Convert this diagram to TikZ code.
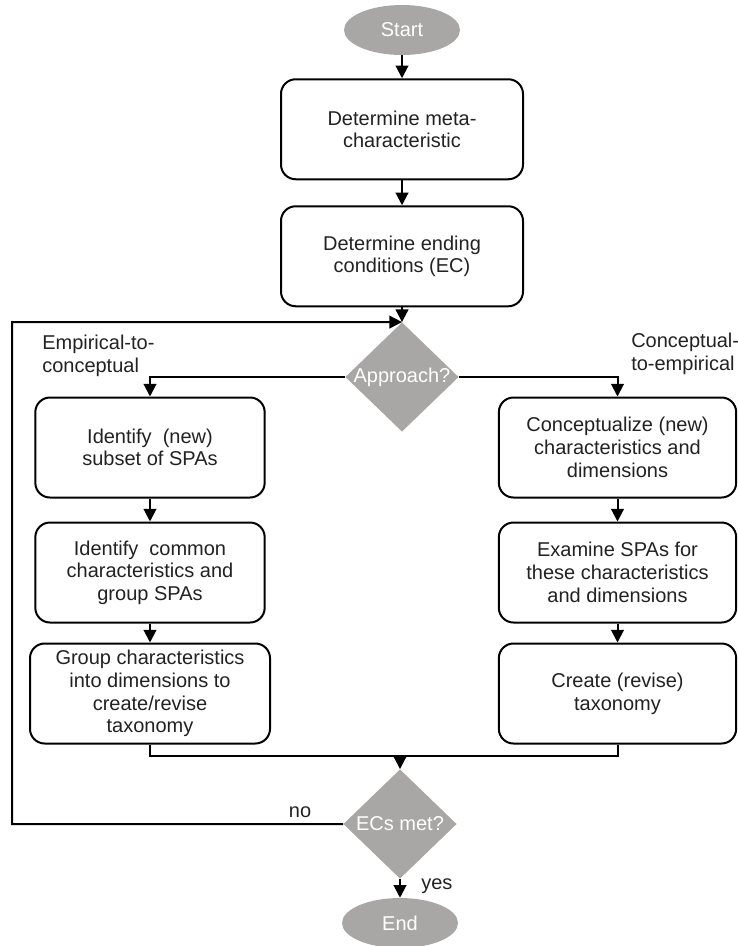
\documentclass[tikz,border=0pt]{standalone}
\usepackage{fontspec}
\setmainfont{Liberation Sans}
\usetikzlibrary{arrows.meta,positioning,shapes.geometric}
\definecolor{stone}{HTML}{A9A6A6}
\definecolor{ink}{HTML}{222222}

\begin{document}
\begin{tikzpicture}[
  x=0.75pt,y=-0.75pt,
  node distance=17.25pt,
  term/.style={ellipse,fill=stone,text=white,minimum width=87pt,minimum height=37.5pt,
            inner sep=0pt,font=\fontsize{15}{17}\selectfont},
  proc/.style={draw=black,line width=1.5pt,rounded corners=11pt,fill=white,minimum width=181.5pt,
            minimum height=75pt,align=center,text=ink,font=\fontsize{15}{17}\selectfont},
  decide/.style={diamond,fill=stone,minimum width=85pt,minimum height=82pt,inner sep=0pt,
            label={[text=white,font=\fontsize{15}{17}\selectfont]center:#1}},
  tag/.style={align=left,text=ink,font=\fontsize{15}{17}\selectfont,inner sep=0pt},
  arr/.style={-{Triangle[length=9.5pt,width=9.5pt]},line width=1.5pt}
]
\useasboundingbox (0,0) rectangle (738,946);
% main column
\node[term] (start) at (402,30) {Start};
\node[proc,below=17.25pt of start] (meta) {Determine meta-\\characteristic};
\node[proc,below=18.75pt of meta] (ending) {Determine ending\\conditions (EC)};
\node[decide=Approach?] (appr) at (402,377) {};
% empirical-to-conceptual branch
\node[proc,minimum width=172pt] (subset) at (150,447.5) {Identify\ \ (new)\\subset of SPAs};
\node[proc,minimum width=172pt,below=of subset] (common) {Identify\ \ common\\characteristics and\\group SPAs};
\node[proc,minimum width=180pt,below=14.25pt of common] (grpdim) {Group characteristics\\into dimensions to\\create/revise\\taxonomy};
% conceptual-to-empirical branch
\node[proc,minimum width=178pt] (concept) at (617.5,447.5) {Conceptualize (new)\\characteristics and\\dimensions};
\node[proc,minimum width=178pt,below=of concept] (examine) {Examine SPAs for\\these characteristics\\and dimensions};
\node[proc,minimum width=178pt,below=14.25pt of examine] (create) {Create (revise)\\taxonomy};
% ending check
\node[decide=ECs met?] (ecs) at (400,824) {};
\node[term] (end) at (400,923) {End};
\coordinate (join) at (400,756);
\coordinate (rail) at (12,322);

\node[tag,anchor=north west] (lblemp) at (42,335) {Empirical-to-\\conceptual};
\node[tag,anchor=north west] (lblcon) at (631,333) {Conceptual-\\to-empirical};

\draw[arr] (start)--(meta);
\draw[arr] (meta)--(ending);
\draw[arr] (ending)--(appr.north);
\draw[arr] (appr.west) -| (subset.north);
\draw[arr] (appr.east) -| (concept.north);
\draw[arr] (subset)--(common);
\draw[arr] (common)--(grpdim);
\draw[arr] (concept)--(examine);
\draw[arr] (examine)--(create);
\draw[line width=1.5pt] (grpdim.south) |- (join);
\draw[line width=1.5pt] (create.south) |- (join);
\draw[arr] (join)--(ecs.north);
\draw[arr] (ecs.west) -| (rail) -- (appr.north);
\node[tag] (lblno) at (300,812) {no};
\draw[arr] (ecs.south)--(end.north);
\node[tag,anchor=west] (lblyes) at (421,886) {yes};
\end{tikzpicture}
\end{document}
